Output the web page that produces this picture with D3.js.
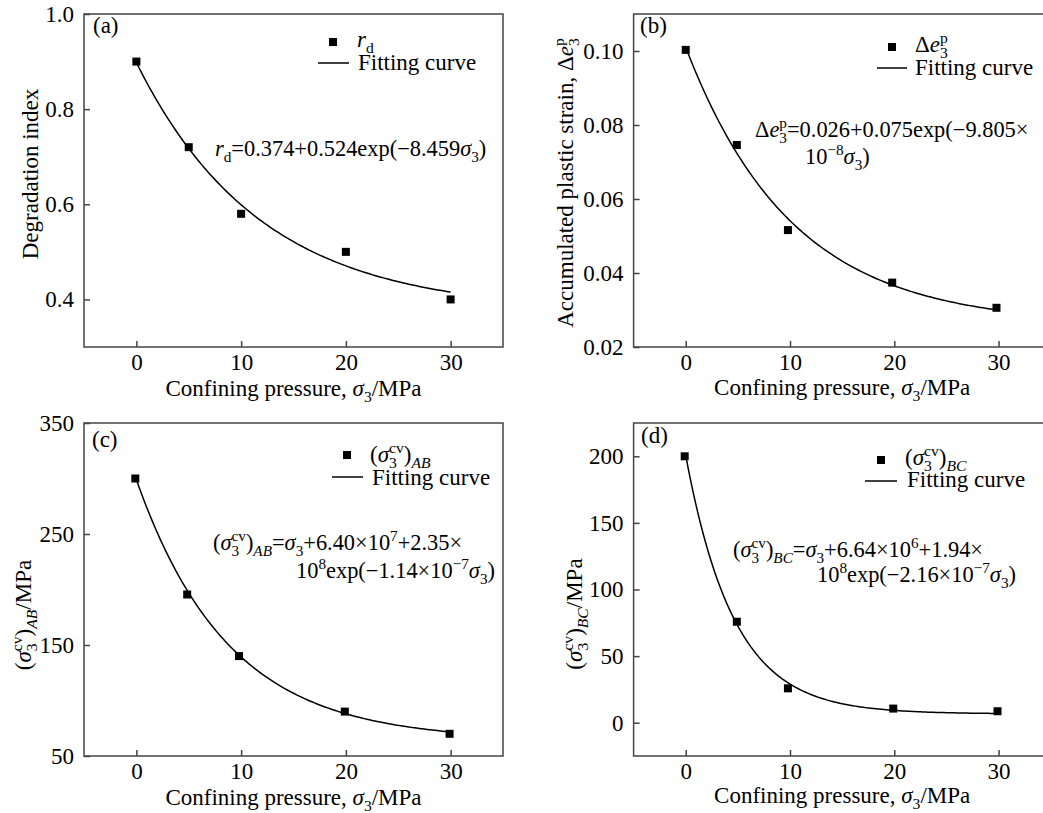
<!DOCTYPE html>
<html>
<head>
<meta charset="utf-8">
<script src="https://cdn.jsdelivr.net/npm/d3@7"></script>
<style>
  body { margin: 0; background: #fff; }
  text { font-family: "Liberation Serif", "Times New Roman", serif; fill: #000; }
</style>
</head>
<body>
<div id="chart"></div>
<script>
// x ticks shared by all panels
var xTicks = [0, 10, 20, 30];

// (a) degradation index
var xA = [0, 5, 10, 20, 30];
var rdValues = [0.90, 0.72, 0.58, 0.50, 0.40];
var fitA = [0.374, 0.524, 0.08459];
var yTicksA = [0.4, 0.6, 0.8, 1.0];

// (b) accumulated plastic strain
var xB = [0, 4.9, 9.8, 19.8, 29.8];
var strainValues = [0.1003, 0.0746, 0.0516, 0.0374, 0.0306];
var fitB = [0.026, 0.075, 0.09805];
var yTicksB = [0.02, 0.04, 0.06, 0.08, 0.10];

// (c) (sigma3 cv)AB
var xC = [-0.1, 4.85, 9.8, 19.9, 29.9];
var abValues = [300, 195.5, 140, 90, 70];
var fitC = [64, 235, 0.114];
var yTicksC = [50, 150, 250, 350];

// (d) (sigma3 cv)BC
var xD = [-0.1, 4.9, 9.8, 19.9, 29.9];
var bcValues = [200, 75.8, 25.8, 10.6, 8.6];
var fitD = [6.64, 194, 0.216];
var yTicksD = [0, 50, 100, 150, 200];

var FS = 23;
var EQ_FS = 22.4;
var width = 1043, height = 813;

var svg = d3.select("#chart").append("svg")
            .attr("width", width)
            .attr("height", height);

svg.append("rect").attr("width", width).attr("height", height).attr("fill", "#fff");

// segments: flags i italic, b sub, p sup, k stacked on previous
function seg(t, f) { return {t: t, f: f || ""}; }

function rich(g, x, y, segs, rotate, anchor, size) {
    var fs = size || FS;
    var t = g.append("text")
             .attr("font-size", fs)
             .attr("text-anchor", anchor || "start");
    if (rotate) {
        t.attr("transform", "translate(" + x + "," + y + ") rotate(-90)");
    } else {
        t.attr("x", x).attr("y", y);
    }
    var off = 0, prevLen = 0;
    segs.forEach(function(s) {
        var small = s.f.indexOf("b") >= 0 || s.f.indexOf("p") >= 0;
        var target = s.f.indexOf("b") >= 0 ? fs * 0.28 : (s.f.indexOf("p") >= 0 ? -fs * 0.4 : 0);
        var ts = t.append("tspan")
                  .attr("font-size", small ? fs * 0.68 : fs)
                  .attr("dy", target - off)
                  .text(s.t);
        if (s.f.indexOf("i") >= 0) ts.attr("font-style", "italic");
        if (s.f.indexOf("k") >= 0) ts.attr("dx", -prevLen);
        off = target;
        prevLen = ts.node().getComputedTextLength();
    });
    return t;
}

var xLabel = [seg("Confining pressure, "), seg("σ", "i"), seg("3", "b"), seg("/MPa")];

var panels = [
  {
    tag: "(a)", box: [84, 14, 503, 347], yDomain: [0.3, 1.0], yTicks: yTicksA, fmt: ".1f",
    xs: xA, ys: rdValues, fit: fitA, fitEnd: 30,
    tagPos: [93, 33], xLabelY: 396,
    yLabel: [seg("Degradation index")], yLabelPos: [38, 174],
    legend: {mx: 333, my: 42, lx: 357, ly: 47, lineY: 63, l0: 318, l1: 349, fx: 358, fy: 70},
    legendLabel: [seg("r", "i"), seg("d", "b")],
    eq: [{x: 215, y: 156, segs: [seg("r", "i"), seg("d", "b"), seg("=0.374+0.524exp(−8.459"), seg("σ", "i"), seg("3", "b"), seg(")")]}]
  },
  {
    tag: "(b)", box: [633.6, 14, 1050.7, 347], yDomain: [0.02, 0.11], yTicks: yTicksB, fmt: ".2f",
    xs: xB, ys: strainValues, fit: fitB, fitEnd: 29.8,
    tagPos: [640, 33], xLabelY: 395,
    yLabel: [seg("Accumulated plastic strain, Δ"), seg("e", "i"), seg("3", "b"), seg("p", "pk")], yLabelPos: [573, 183],
    legend: {mx: 892, my: 47, lx: 915, ly: 52, lineY: 68, l0: 877, l1: 907, fx: 915, fy: 75},
    legendLabel: [seg("Δ"), seg("e", "i"), seg("3", "b"), seg("p", "pk")],
    eq: [{x: 755, y: 137, segs: [seg("Δ"), seg("e", "i"), seg("3", "b"), seg("p", "pk"), seg("=0.026+0.075exp(−9.805×")]},
         {x: 805, y: 164, segs: [seg("10"), seg("−8", "p"), seg("σ", "i"), seg("3", "b"), seg(")")]}]
  },
  {
    tag: "(c)", box: [84, 423, 503, 756], yDomain: [50, 350], yTicks: yTicksC, fmt: "d",
    xs: xC, ys: abValues, fit: fitC, fitEnd: 29.9,
    tagPos: [92, 447], xLabelY: 805,
    yLabel: [seg("("), seg("σ", "i"), seg("3", "b"), seg("cv", "pk"), seg(")"), seg("AB", "ib"), seg("/MPa")], yLabelPos: [31, 615],
    legend: {mx: 347, my: 455, lx: 370, ly: 462, lineY: 477, l0: 332, l1: 363, fx: 372, fy: 485},
    legendLabel: [seg("("), seg("σ", "i"), seg("3", "b"), seg("cv", "pk"), seg(")"), seg("AB", "ib")],
    eq: [{x: 213, y: 550, segs: [seg("("), seg("σ", "i"), seg("3", "b"), seg("cv", "pk"), seg(")"), seg("AB", "ib"), seg("="), seg("σ", "i"), seg("3", "b"), seg("+6.40×10"), seg("7", "p"), seg("+2.35×")]},
         {x: 296, y: 578, segs: [seg("10"), seg("8", "p"), seg("exp(−1.14×10"), seg("−7", "p"), seg("σ", "i"), seg("3", "b"), seg(")")]}]
  },
  {
    tag: "(d)", box: [633.6, 423, 1050.7, 756], yDomain: [-25, 225], yTicks: yTicksD, fmt: "d",
    xs: xD, ys: bcValues, fit: fitD, fitEnd: 29.9,
    tagPos: [641, 443], xLabelY: 803,
    yLabel: [seg("("), seg("σ", "i"), seg("3", "b"), seg("cv", "pk"), seg(")"), seg("BC", "ib"), seg("/MPa")], yLabelPos: [582, 614],
    legend: {mx: 881, my: 460, lx: 905, ly: 465, lineY: 481, l0: 865, l1: 897, fx: 907, fy: 487},
    legendLabel: [seg("("), seg("σ", "i"), seg("3", "b"), seg("cv", "pk"), seg(")"), seg("BC", "ib")],
    eq: [{x: 733, y: 557, segs: [seg("("), seg("σ", "i"), seg("3", "b"), seg("cv", "pk"), seg(")"), seg("BC", "ib"), seg("="), seg("σ", "i"), seg("3", "b"), seg("+6.64×10"), seg("6", "p"), seg("+1.94×")]},
         {x: 817, y: 582, segs: [seg("10"), seg("8", "p"), seg("exp(−2.16×10"), seg("−7", "p"), seg("σ", "i"), seg("3", "b"), seg(")")]}]
  }
];

panels.forEach(drawPanel);

function drawPanel(p) {
    var x0 = p.box[0], y0 = p.box[1], x1 = p.box[2], y1 = p.box[3];
    var g = svg.append("g");

    var x = d3.scaleLinear().domain([-5, 35]).range([x0, x1]);
    var y = d3.scaleLinear().domain(p.yDomain).range([y1, y0]);

    // frame
    g.append("rect")
     .attr("x", x0).attr("y", y0)
     .attr("width", x1 - x0).attr("height", y1 - y0)
     .attr("fill", "none")
     .attr("stroke", "#444")
     .attr("stroke-width", 1.5);

    // inward ticks
    var xAxis = g.append("g")
                 .attr("transform", "translate(0," + y1 + ")")
                 .call(d3.axisBottom(x).tickValues(xTicks).tickSizeInner(-6).tickSizeOuter(0).tickPadding(7));
    var yAxis = g.append("g")
                 .attr("transform", "translate(" + x0 + ",0)")
                 .call(d3.axisLeft(y).tickValues(p.yTicks).tickSizeInner(-6).tickSizeOuter(0)
                         .tickPadding(10).tickFormat(d3.format(p.fmt)));
    [xAxis, yAxis].forEach(function(a) {
        a.select(".domain").remove();
        a.selectAll("line").attr("stroke", "#444").attr("stroke-width", 1.5);
        a.selectAll("text")
         .attr("font-size", FS)
         .attr("font-family", "'Liberation Serif', serif")
         .attr("fill", "#000");
    });

    // fitting curve
    var fx = d3.range(0, p.fitEnd + 0.001, 0.25);
    var curve = d3.line()
                  .x(function(d) { return x(d); })
                  .y(function(d) { return y(p.fit[0] + p.fit[1] * Math.exp(-p.fit[2] * d)); });
    g.append("path")
     .datum(fx)
     .attr("d", curve)
     .attr("fill", "none")
     .attr("stroke", "#000")
     .attr("stroke-width", 1.5);

    // measured points
    var pts = p.xs.map(function(v, i) { return [v, p.ys[i]]; });
    g.selectAll(".pt")
     .data(pts)
     .enter()
     .append("rect")
     .attr("class", "pt")
     .attr("x", function(d) { return x(d[0]) - 4; })
     .attr("y", function(d) { return y(d[1]) - 4; })
     .attr("width", 8)
     .attr("height", 8)
     .attr("fill", "#000");

    // panel tag
    g.append("text")
     .attr("x", p.tagPos[0]).attr("y", p.tagPos[1])
     .attr("font-size", FS)
     .text(p.tag);

    // axis labels
    rich(g, (x0 + x1) / 2, p.xLabelY, xLabel, false, "middle");
    rich(g, p.yLabelPos[0], p.yLabelPos[1], p.yLabel, true, "middle");

    // legend
    var L = p.legend;
    g.append("rect")
     .attr("x", L.mx - 4).attr("y", L.my - 4)
     .attr("width", 8).attr("height", 8)
     .attr("fill", "#000");
    rich(g, L.lx, L.ly, p.legendLabel);
    g.append("line")
     .attr("x1", L.l0).attr("x2", L.l1)
     .attr("y1", L.lineY).attr("y2", L.lineY)
     .attr("stroke", "#000").attr("stroke-width", 1.5);
    g.append("text")
     .attr("x", L.fx).attr("y", L.fy)
     .attr("font-size", FS)
     .text("Fitting curve");

    // fitted equation
    p.eq.forEach(function(e) { rich(g, e.x, e.y, e.segs, false, "start", EQ_FS); });
}
</script>
</body>
</html>
